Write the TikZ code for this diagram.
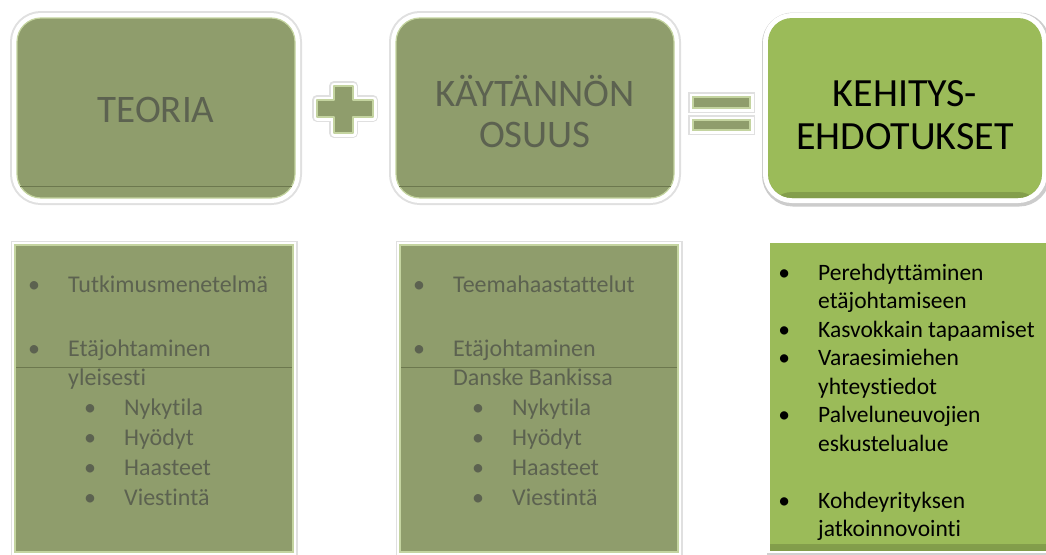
\documentclass[tikz,border=0pt]{standalone}
\usepackage{fontspec}
\setmainfont{Carlito}[Ligatures={NoCommon}]
\definecolor{leaf}{RGB}{155,187,89}
\definecolor{moss}{RGB}{143,157,108}
\definecolor{mossrim}{RGB}{196,212,160}
\definecolor{mossline}{RGB}{108,120,78}
\definecolor{mosstext}{RGB}{92,98,80}
% bullet hung 34pt to the left of the item text
\newcommand\bitem{\llap{\makebox[0pt][c]{•}\hspace{34pt}}}
\begin{document}
\begin{tikzpicture}[x=1pt,y=-1pt,
  halo/.style={preaction={draw=black!12,line width=14pt},
               preaction={draw=white,line width=10pt}},
  thinhalo/.style={preaction={draw=black!12,line width=9pt},
                   preaction={draw=white,line width=6pt}},
  mutedfill/.style={fill=moss,draw=mossrim,line width=1.2pt},
  topbox/.style={rounded corners=24pt,minimum height=180pt,inner sep=0pt},
  listbox/.style={minimum height=307pt,inner sep=0pt},
  bottomshade/.style={path picture={\shade[top color=leaf,bottom color=leaf!84!black]
      ([yshift=6pt]path picture bounding box.south west) rectangle
      (path picture bounding box.south east);}},
  bigmuted/.style={font=\fontsize{39}{39}\selectfont,text=mosstext,anchor=base,inner sep=0pt},
  bigdark/.style={font=\fontsize{40}{40}\selectfont,text=black,anchor=base,inner sep=0pt},
  mutedline/.style={font=\fontsize{24}{28}\selectfont,text=mosstext,anchor=base west,inner sep=0pt},
  darkline/.style={font=\fontsize{23.5}{28}\selectfont,text=black,anchor=base west,inner sep=0pt},
  artline/.style={draw=mossline,line width=1pt}
]
\fill[white] (0,0) rectangle (1046,554);
\useasboundingbox (0,0) rectangle (1046,554);

% --- top row ---
\node[topbox,halo,mutedfill,minimum width=278pt] (teoria) at (156,108) {};
\node[topbox,halo,mutedfill,minimum width=278pt] (kayt) at (535,108) {};
\node[topbox,minimum width=274pt,fill=leaf,bottomshade,
      preaction={draw=black!20,line width=14pt,transform canvas={shift={(1pt,-1.5pt)}}},
      preaction={draw=white,line width=10pt}] (kehi) at (905,108) {};

\draw[artline] (20,186) -- (292,186);
\draw[artline] (399,186) -- (671,186);

\node[bigmuted] (t1) at (156,122) {TEORIA};
\node[bigmuted] (t2a) at (535,106) {KÄYTÄNNÖN};
\node[bigmuted] (t2b) at (535,147) {OSUUS};
\node[bigdark] (t3a) at (905,106) {KEHITYS-};
\node[bigdark] (t3b) at (905,149) {EHDOTUKSET};

% plus sign
\path[mutedfill,line join=round,
      preaction={draw=black!12,line width=10pt,line join=round},
      preaction={draw=white,line width=7pt,line join=round}]
  (334,86) -- (353,86) -- (353,100) -- (373,100) -- (373,117) -- (353,117)
  -- (353,133) -- (334,133) -- (334,117) -- (317,117) -- (317,100) -- (334,100) -- cycle;

% equals sign
\path[mutedfill,
      preaction={draw=black!12,line width=10pt},
      preaction={draw=white,line width=7pt}]
  (693,97) rectangle (750,108) (693,120) rectangle (750,130);

% --- bottom row ---
\node[listbox,thinhalo,mutedfill,minimum width=278pt] (teorialist) at (154,398.5) {};
\node[listbox,thinhalo,mutedfill,minimum width=278pt] (kaytlist) at (539,398.5) {};
\node[listbox,minimum width=277pt,fill=leaf,bottomshade,
      preaction={draw=black!18,line width=9pt,transform canvas={shift={(1pt,-1pt)}}},
      preaction={draw=white,line width=6pt}] (kehilist) at (908.5,396.5) {};

\draw[artline] (16,367) -- (292,367);
\draw[artline] (401,367) -- (677,367);

% theory items
\node[mutedline] (a1) at (68,292) {\bitem Tutkimusmenetelmä};
\node[mutedline] (a2) at (68,356) {\bitem Etäjohtaminen};
\node[mutedline] (a3) at (68,385) {yleisesti};
\node[mutedline] (a4) at (124,415) {\bitem Nykytila};
\node[mutedline] (a5) at (124,445) {\bitem Hyödyt};
\node[mutedline] (a6) at (124,475) {\bitem Haasteet};
\node[mutedline] (a7) at (124,505) {\bitem Viestintä};

% practical part items
\node[mutedline] (b1) at (453,292) {\bitem Teemahaastattelut};
\node[mutedline] (b2) at (453,356) {\bitem Etäjohtaminen};
\node[mutedline] (b3) at (453,385) {Danske Bankissa};
\node[mutedline] (b4) at (512,415) {\bitem Nykytila};
\node[mutedline] (b5) at (512,445) {\bitem Hyödyt};
\node[mutedline] (b6) at (512,475) {\bitem Haasteet};
\node[mutedline] (b7) at (512,505) {\bitem Viestintä};

% development proposals
\node[darkline] (c1) at (818,280) {\bitem Perehdyttäminen};
\node[darkline] (c2) at (818,308.5) {etäjohtamiseen};
\node[darkline] (c3) at (818,337) {\bitem Kasvokkain tapaamiset};
\node[darkline] (c4) at (818,365.5) {\bitem Varaesimiehen};
\node[darkline] (c5) at (818,394) {yhteystiedot};
\node[darkline] (c6) at (818,422.5) {\bitem Palveluneuvojien};
\node[darkline] (c7) at (818,451) {eskustelualue};
\node[darkline] (c8) at (818,508) {\bitem Kohdeyrityksen};
\node[darkline] (c9) at (818,536.5) {jatkoinnovointi};
\end{tikzpicture}
\end{document}
